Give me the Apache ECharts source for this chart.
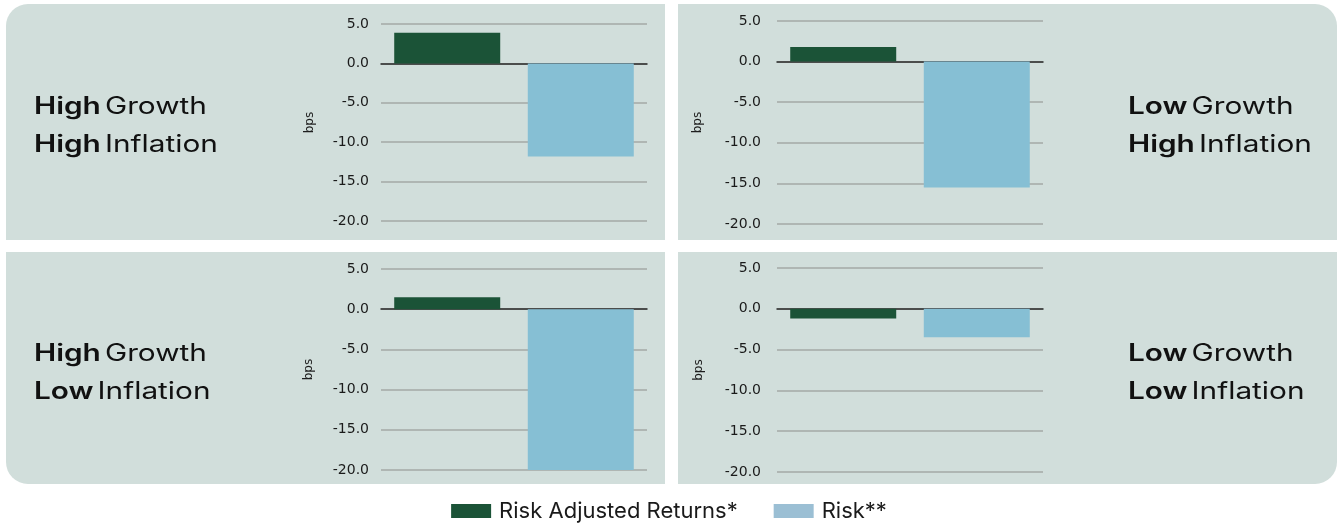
<!DOCTYPE html>
<html>
<head>
<meta charset="utf-8">
<script src="https://cdn.jsdelivr.net/npm/echarts@6/dist/echarts.min.js"></script>
<style>
  html, body { margin: 0; padding: 0; background: #ffffff; }
  #chart { width: 1338px; height: 524px; }
</style>
</head>
<body>
<div id="chart"></div>
<script>
// Scenario quadrants: growth / inflation regimes
const growthLevel    = ['High', 'Low', 'High', 'Low'];
const inflationLevel = ['High', 'High', 'Low', 'Low'];
// Values in basis points per scenario (same order as above)
const riskAdjustedReturns = [3.9, 1.8, 1.5, -1.2];
const riskValues          = [-11.8, -15.5, -20.0, -3.5];
const seriesNames = ['Risk Adjusted Returns*', 'Risk**'];
const yMin = -20, yMax = 5, yStep = 5;
const yAxisTitle = 'bps';

const GREEN = '#1b5337';
const BLUE = '#86bfd4';
const BLUE_KEY = '#9bbfd4';
const PANEL = '#d1dedb';
const LABEL_FONT = 'Inter, Roboto, sans-serif';

// panel boxes and plotting areas
const panelBoxes = [
  { x: 6,   y: 4,   w: 659, h: 236, r: [22, 0, 0, 0] },
  { x: 678, y: 4,   w: 659, h: 236, r: [0, 22, 0, 0] },
  { x: 6,   y: 252, w: 659, h: 232, r: [0, 0, 0, 22] },
  { x: 678, y: 252, w: 659, h: 232, r: [0, 0, 22, 0] }
];
const plotAreas = [
  { left: 381, top: 24,  width: 266, height: 197, nameGap: 65, margin: 12 },
  { left: 777, top: 21,  width: 266, height: 203, nameGap: 73, margin: 16 },
  { left: 381, top: 269, width: 266, height: 201, nameGap: 66, margin: 12 },
  { left: 777, top: 268, width: 266, height: 204, nameGap: 72, margin: 16 }
];
const captionPos = [
  { x: 34,   y: 126 },
  { x: 1128, y: 126 },
  { x: 34,   y: 373 },
  { x: 1128, y: 373 }
];

const grids = [], xAxes = [], yAxes = [], series = [], graphics = [];

panelBoxes.forEach(b => {
  graphics.push({
    type: 'rect', z: -10, silent: true,
    shape: { x: b.x, y: b.y, width: b.w, height: b.h, r: b.r },
    style: { fill: PANEL }
  });
});

plotAreas.forEach((p, i) => {
  grids.push({ left: p.left, top: p.top, width: p.width, height: p.height, containLabel: false });
  xAxes.push({
    type: 'category', gridIndex: i, data: [''],
    axisLine: { onZero: true, lineStyle: { color: '#2b2b2b', width: 1.5 } },
    axisTick: { show: false }, axisLabel: { show: false }
  });
  yAxes.push({
    type: 'value', gridIndex: i, min: yMin, max: yMax, interval: yStep,
    name: yAxisTitle, nameLocation: 'middle', nameRotate: 90, nameGap: p.nameGap,
    nameTextStyle: { fontFamily: 'DejaVu Sans, sans-serif', fontSize: 12, color: '#1e1e1e' },
    axisLine: { show: false }, axisTick: { show: false },
    axisLabel: {
      margin: p.margin, fontFamily: 'DejaVu Sans, sans-serif', fontSize: 14, color: '#1a1a1a',
      formatter: v => v.toFixed(1)
    },
    splitLine: { lineStyle: { color: '#a3a8a6', width: 1.5 } }
  });
  series.push({
    name: seriesNames[0], type: 'bar', xAxisIndex: i, yAxisIndex: i,
    data: [riskAdjustedReturns[i]], barWidth: 106, barGap: '26%',
    itemStyle: { color: GREEN }, silent: true
  });
  series.push({
    name: seriesNames[1], type: 'bar', xAxisIndex: i, yAxisIndex: i,
    data: [riskValues[i]], barWidth: 106, barGap: '26%',
    itemStyle: { color: BLUE }, silent: true
  });

  // quadrant caption, widened to the set's broad lettering
  const c = captionPos[i];
  graphics.push({
    type: 'text', x: c.x, y: c.y, z: 10, silent: true, scaleX: 1.24,
    style: {
      text: '{b|' + growthLevel[i] + '} {r|Growth}\n{b|' + inflationLevel[i] + '} {r|Inflation}',
      verticalAlign: 'middle', align: 'left',
      rich: {
        b: { fontFamily: LABEL_FONT, fontSize: 24, fontWeight: 600, fill: '#111', lineHeight: 38 },
        r: { fontFamily: LABEL_FONT, fontSize: 24, fontWeight: 400, fill: '#111', lineHeight: 38 }
      }
    }
  });
});

const chart = echarts.init(document.getElementById('chart'), null, { renderer: 'canvas' });
chart.setOption({
  animation: false,
  backgroundColor: '#ffffff',
  grid: grids,
  xAxis: xAxes,
  yAxis: yAxes,
  series: series,
  graphic: graphics,
  legend: {
    left: 'center', top: 495,
    itemWidth: 40, itemHeight: 14, itemGap: 36,
    icon: 'rect',
    textStyle: { fontFamily: LABEL_FONT, fontSize: 22, color: '#1a1a1a', padding: [0, 0, 0, 3] },
    data: [
      { name: seriesNames[0], itemStyle: { color: GREEN } },
      { name: seriesNames[1], itemStyle: { color: BLUE_KEY } }
    ],
    selectedMode: false
  }
});
</script>
</body>
</html>
